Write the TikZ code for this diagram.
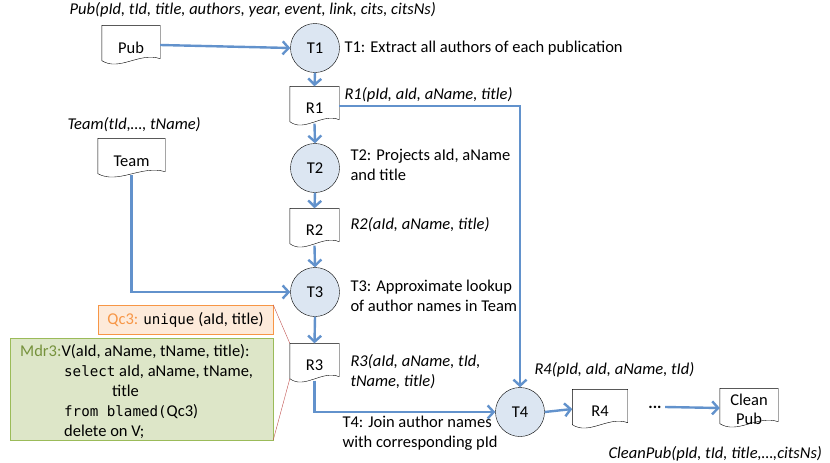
\documentclass[tikz,border=0pt]{standalone}
\usepackage{fontspec}
\setmainfont{Carlito}
\setmonofont{DejaVu Sans Mono}[Scale=0.86]
\usetikzlibrary{arrows.meta,positioning,calc}
\definecolor{flowblue}{RGB}{98,146,204}
\definecolor{transfill}{RGB}{220,230,242}
\definecolor{qcorange}{RGB}{247,150,70}
\definecolor{qcfill}{RGB}{253,234,218}
\definecolor{mdrgreen}{RGB}{118,146,60}
\definecolor{mdrborder}{RGB}{155,187,89}
\definecolor{mdrfill}{RGB}{221,230,200}
\definecolor{linkred}{RGB}{192,80,77}

% outline of a document node, wavy bottom
\newcommand{\docshape}[1]{%
  \draw[thin, fill=white] ($(#1.south west)+(0,4pt)$) -- (#1.north west) -- (#1.north east)
    -- ($(#1.south east)+(0,6pt)$)
    .. controls ($(#1.south east)!0.35!(#1.south west)+(0,13pt)$)
    and ($(#1.south east)!0.7!(#1.south west)+(0,-7pt)$) .. ($(#1.south west)+(0,4pt)$) -- cycle;}

\begin{document}
\begin{tikzpicture}[x=1pt, y=-1pt,
    font=\fontsize{16.5}{20}\selectfont,
    trans/.style={circle, draw, thin, fill=transfill, minimum size=49pt, inner sep=0pt},
    docu/.style={minimum width=#1, minimum height=39pt, inner sep=0pt, align=center},
    schema/.style={anchor=west, align=left, font=\fontsize{16.5}{20}\selectfont\itshape},
    note/.style={anchor=west, align=left},
    flow/.style={-{Straight Barb[length=6pt,width=13pt]}, line width=2.4pt, flowblue},
    link/.style={linkred, thin}
]
\useasboundingbox (0,0) rectangle (830,463);

% sources
\node[docu=58pt] (pub) at (131,45) {};
\node[docu=67pt] (team) at (131.5,158) {};
\node[schema] (pubschema) at (66,10) {Pub(pId, tId, title, authors, year, event, link, cits, citsNs)};
\node[schema] (teamschema) at (64,125) {Team(tId,…, tName)};

% transformations
\node[trans] (t1) at (315,48) {T1};
\node[trans] (t2) at (315,168) {T2};
\node[trans] (t3) at (315,292) {T3};
\node[trans] (t4) at (520,412) {T4};

% intermediate results
\node[docu=49pt] (r1) at (314.5,106) {};
\node[docu=49pt] (r2) at (314.5,228) {};
\node[docu=49pt] (r3) at (314.5,363) {};
\node[docu=55pt] (r4) at (600,409) {};
\node (dots) at (655,407) {\textbf{...}};
\node[docu=58pt] (clean) at (749,408) {};

\foreach \d in {pub,team,r1,r2,r3,r4,clean} \docshape{\d};
\node at ($(pub)+(0,-3pt)$) {Pub};
\node at ($(team)+(0,-3pt)$) {Team};
\node at ($(r1)+(0,-2pt)$) {R1};
\node at ($(r2)+(0,-2pt)$) {R2};
\node at ($(r3)+(0,-2pt)$) {R3};
\node at ($(r4)+(0,-2pt)$) {R4};
\node[align=center, font=\fontsize{16.5}{19}\selectfont] at ($(clean)+(0,-1pt)$) {Clean\\Pub};

% labels
\node[note] (t1lbl) at (341,48) {T1: Extract all authors of each publication};
\node[schema] (r1lbl) at (341,95) {R1(pId, aId, aName, title)};
\node[note] (t2lbl) at (347,165) {T2: Projects aId, aName\\and title};
\node[schema] (r2lbl) at (347,225) {R2(aId, aName, title)};
\node[note] (t3lbl) at (347,296) {T3: Approximate lookup\\of author names in Team};
\node[schema] (r3lbl) at (347,372) {R3(aId, aName, tId,\\tName, title)};
\node[schema] (r4lbl) at (531,370) {R4(pId, aId, aName, tId)};
\node[note] (t4lbl) at (339,433) {T4: Join author names\\with corresponding pId};
\node[schema] (cleanlbl) at (605,454) {CleanPub(pId, tId, title,…,citsNs)};

% quality constraint and repair
\node[draw=qcorange, fill=qcfill, minimum width=175pt, minimum height=29pt, inner sep=0pt] (qc3) at (185.5,319.5)
  {\textcolor{qcorange}{Qc3:} \texttt{unique} (aId, title)};
\node[draw=mdrborder, fill=mdrfill, minimum width=263pt, minimum height=102pt, inner sep=0pt] (mdr3) at (141.5,389) {};
\node[anchor=north west, align=left, inner sep=0pt] (mdr3txt) at (20,344)
  {\textcolor{mdrgreen}{Mdr3:}V(aId, aName, tName, title):\\
   \hspace*{44pt}\texttt{select} aId, aName, tName,\\
   \hspace*{92pt}title\\
   \hspace*{44pt}\texttt{from blamed(}Qc3)\\
   \hspace*{44pt}delete on V;};

\draw[link] (qc3.north east) -- (r3.north west);
\draw[link] (mdr3.south east) -- ($(r3.south west)+(0,4pt)$);

% flow
\draw[flow] (pub.east) -- (t1.west);
\draw[flow] (t1.south) -- (r1.north);
\draw[flow] ($(r1.south)+(0,2pt)$) -- (t2.north);
\draw[flow] (t2.south) -- (r2.north);
\draw[flow] ($(r2.south)+(0,2pt)$) -- (t3.north);
\draw[flow] (t3.south) -- (r3.north);
\draw[flow] ($(team.south)+(0,3pt)$) |- (t3.west);
\draw[flow] (r1.east) -| (t4.north);
\draw[flow] ($(r3.south)+(0,2pt)$) |- (t4.west);
\draw[flow] (t4.east) -- (r4.west);
\draw[flow] (dots.east) -- (clean.west);
\end{tikzpicture}
\end{document}
